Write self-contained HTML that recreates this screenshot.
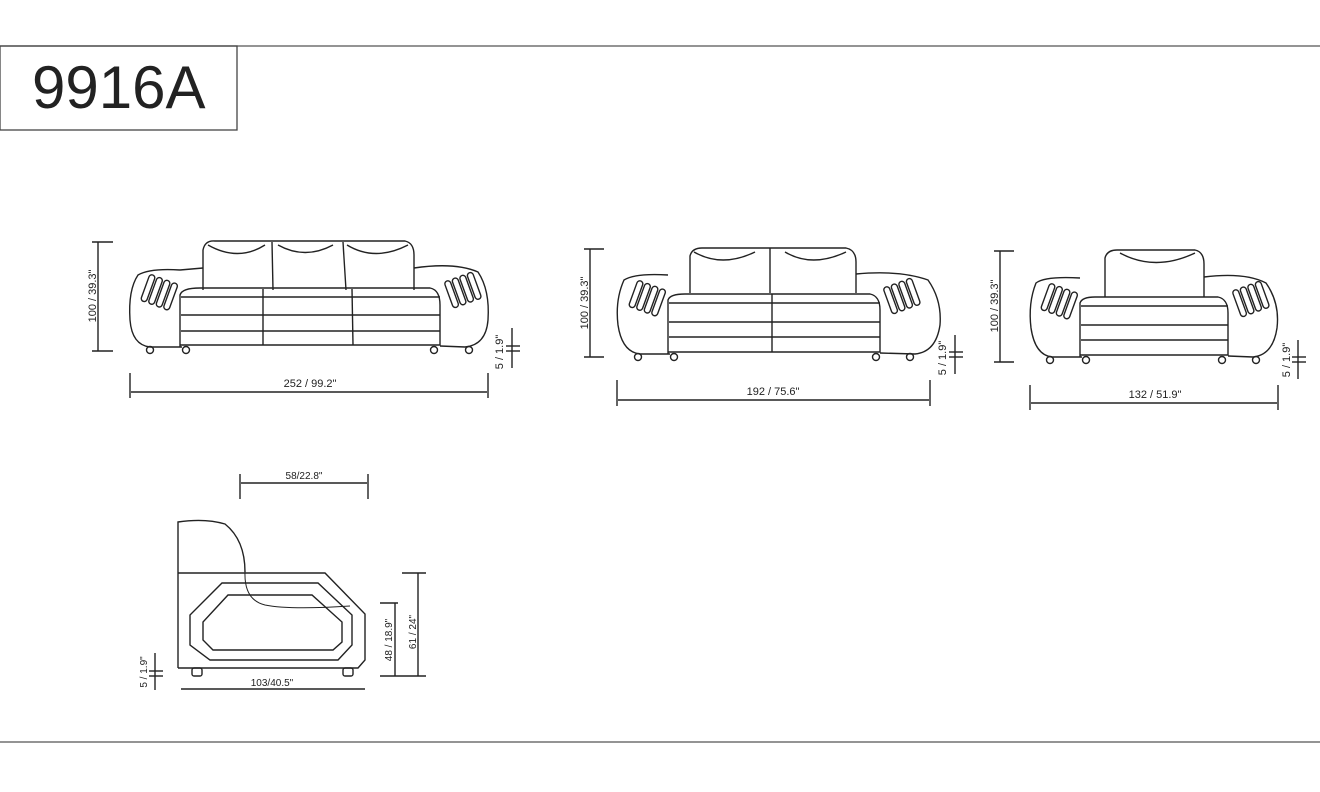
<!DOCTYPE html>
<html><head><meta charset="utf-8"><style>
html,body{margin:0;padding:0;background:#fff;}
svg{display:block;}
text{font-family:"Liberation Sans",Arial,sans-serif;fill:#222;}
</style></head><body>
<svg width="1320" height="792" viewBox="0 0 1320 792" xmlns="http://www.w3.org/2000/svg">
<defs>
<g id="ventL" stroke="#222" fill="none" stroke-width="1.4">
<rect x="0" y="0" width="6" height="28" rx="3" transform="rotate(20)"/>
<rect x="8" y="0" width="6" height="28" rx="3" transform="rotate(20)"/>
<rect x="16" y="0" width="6" height="28" rx="3" transform="rotate(20)"/>
<rect x="24" y="0" width="6" height="28" rx="3" transform="rotate(20)"/>
</g>
<g id="ventR" stroke="#222" fill="none" stroke-width="1.4">
<rect x="0" y="0" width="6" height="28" rx="3" transform="rotate(-20)"/>
<rect x="8" y="0" width="6" height="28" rx="3" transform="rotate(-20)"/>
<rect x="16" y="0" width="6" height="28" rx="3" transform="rotate(-20)"/>
<rect x="24" y="0" width="6" height="28" rx="3" transform="rotate(-20)"/>
</g>
</defs>
<g stroke="#333" fill="none" stroke-width="1.3">
<line x1="0" y1="46" x2="1320" y2="46" stroke="#555"/>
<line x1="0" y1="742" x2="1320" y2="742" stroke="#555"/>
<rect x="0" y="46" width="237" height="84" stroke="#444"/>
</g>
<text x="32" y="108" font-size="60">9916A</text>

<!-- Sofa 3 seat -->
<g stroke="#222" fill="none" stroke-width="1.4">
<path d="M180 270 Q150 268 138 275 Q128 290 130 320 Q132 345 150 347 L182 347"/>
<path d="M203 268 L180 270"/>
<path d="M203 290 L203 250 Q205 240 215 241 L405 241 Q414 243 414 255 L414 290"/>
<line x1="272" y1="242" x2="273" y2="290"/><line x1="343" y1="242" x2="346" y2="290"/>
<path d="M208 245 Q238 262 265 245"/><path d="M278 245 Q305 260 333 245"/><path d="M347 245 Q375 262 408 245"/>
<path d="M180 347 L180 295 Q182 288 200 288 L430 288 Q440 290 440 305 L440 345 L180 345"/>
<line x1="181" y1="297" x2="440" y2="297"/><line x1="181" y1="315" x2="440" y2="315"/><line x1="181" y1="331" x2="440" y2="331"/>
<line x1="263" y1="289" x2="263" y2="345"/><line x1="352" y1="289" x2="353" y2="345"/>
<path d="M414 268 Q455 262 478 272 Q490 290 488 320 Q486 345 465 347 L440 346"/>
<circle cx="150" cy="350" r="3.5"/><circle cx="186" cy="350" r="3.5"/><circle cx="434" cy="350" r="3.5"/><circle cx="469" cy="350" r="3.5"/>
<line x1="98" y1="242" x2="98" y2="351"/><line x1="92" y1="242" x2="113" y2="242"/><line x1="92" y1="351" x2="113" y2="351"/>
<line x1="130" y1="373" x2="130" y2="398"/><line x1="488" y1="373" x2="488" y2="398"/><line x1="131" y1="392" x2="487" y2="392"/>
<line x1="512" y1="328" x2="512" y2="368"/><line x1="506" y1="346" x2="520" y2="346"/><line x1="506" y1="351" x2="520" y2="351"/>
</g>
<use href="#ventL" x="150" y="274"/>
<use href="#ventR" x="444" y="282"/>
<text x="310" y="387" font-size="11" text-anchor="middle">252 / 99.2"</text>
<text transform="translate(96,296) rotate(-90)" font-size="11" text-anchor="middle">100 / 39.3"</text>
<text transform="translate(503,352) rotate(-90)" font-size="11" text-anchor="middle">5 / 1.9"</text>

<!-- Loveseat -->
<g stroke="#222" fill="none" stroke-width="1.4">
<path d="M668 275 Q635 273 624 280 Q615 300 618 325 Q622 352 640 354 L670 354"/>
<path d="M690 293 L690 256 Q692 248 702 248 L846 248 Q856 250 856 262 L856 293"/>
<line x1="770" y1="248" x2="770" y2="293"/>
<path d="M694 252 Q722 268 755 252"/><path d="M785 252 Q812 268 846 252"/>
<path d="M668 354 L668 300 Q670 294 685 294 L870 294 Q880 296 880 310 L880 352 L668 352"/>
<line x1="669" y1="303" x2="880" y2="303"/><line x1="669" y1="322" x2="880" y2="322"/><line x1="669" y1="337" x2="880" y2="337"/>
<line x1="772" y1="294" x2="772" y2="352"/>
<path d="M856 274 Q900 270 928 280 Q942 300 940 325 Q936 352 915 354 L880 353"/>
<circle cx="638" cy="357" r="3.5"/><circle cx="674" cy="357" r="3.5"/><circle cx="876" cy="357" r="3.5"/><circle cx="910" cy="357" r="3.5"/>
<line x1="590" y1="249" x2="590" y2="357"/><line x1="584" y1="249" x2="604" y2="249"/><line x1="584" y1="357" x2="604" y2="357"/>
<line x1="617" y1="380" x2="617" y2="406"/><line x1="930" y1="380" x2="930" y2="406"/><line x1="618" y1="400" x2="929" y2="400"/>
<line x1="955" y1="335" x2="955" y2="374"/><line x1="949" y1="352" x2="963" y2="352"/><line x1="949" y1="357" x2="963" y2="357"/>
</g>
<use href="#ventL" x="638" y="280"/>
<use href="#ventR" x="883" y="288"/>
<text x="773" y="395" font-size="11" text-anchor="middle">192 / 75.6"</text>
<text transform="translate(588,303) rotate(-90)" font-size="11" text-anchor="middle">100 / 39.3"</text>
<text transform="translate(946,358) rotate(-90)" font-size="11" text-anchor="middle">5 / 1.9"</text>

<!-- Chair -->
<g stroke="#222" fill="none" stroke-width="1.4">
<path d="M1080 278 Q1045 276 1036 283 Q1028 303 1031 328 Q1035 355 1052 357 L1082 357"/>
<path d="M1105 297 L1105 258 Q1107 250 1117 250 L1195 250 Q1204 252 1204 264 L1204 297"/>
<path d="M1120 253 Q1155 272 1195 253"/>
<path d="M1080 357 L1080 303 Q1082 297 1095 297 L1218 297 Q1228 299 1228 313 L1228 355 L1080 355"/>
<line x1="1081" y1="306" x2="1228" y2="306"/><line x1="1081" y1="325" x2="1228" y2="325"/><line x1="1081" y1="340" x2="1228" y2="340"/>
<path d="M1204 277 Q1245 272 1266 283 Q1280 303 1277 328 Q1273 355 1253 357 L1228 356"/>
<circle cx="1050" cy="360" r="3.5"/><circle cx="1086" cy="360" r="3.5"/><circle cx="1222" cy="360" r="3.5"/><circle cx="1256" cy="360" r="3.5"/>
<line x1="1000" y1="251" x2="1000" y2="362"/><line x1="994" y1="251" x2="1014" y2="251"/><line x1="994" y1="362" x2="1014" y2="362"/>
<line x1="1030" y1="385" x2="1030" y2="410"/><line x1="1278" y1="385" x2="1278" y2="410"/><line x1="1031" y1="403" x2="1277" y2="403"/>
<line x1="1298" y1="340" x2="1298" y2="379"/><line x1="1292" y1="357" x2="1306" y2="357"/><line x1="1292" y1="362" x2="1306" y2="362"/>
</g>
<use href="#ventL" x="1050" y="283"/>
<use href="#ventR" x="1232" y="291"/>
<text x="1155" y="398" font-size="11" text-anchor="middle">132 / 51.9"</text>
<text transform="translate(998,306) rotate(-90)" font-size="11" text-anchor="middle">100 / 39.3"</text>
<text transform="translate(1290,360) rotate(-90)" font-size="11" text-anchor="middle">5 / 1.9"</text>

<!-- Side view -->
<g stroke="#222" fill="none" stroke-width="1.4">
<path d="M178 668 L178 522 Q205 518 225 524 Q245 540 245 572"/>
<path d="M178 573 L325 573 L365 614 L365 660 L358 668 L178 668"/>
<path d="M245 572 Q244 600 265 605 Q290 610 350 606" stroke-width="1"/>
<polygon points="222,583 318,583 352,615 352,645 338,660 210,660 190,645 190,615"/>
<polygon points="228,595 312,595 342,622 342,642 333,650 213,650 203,640 203,622"/>
<rect x="192" y="668" width="10" height="8" rx="2"/><rect x="343" y="668" width="10" height="8" rx="2"/>
<line x1="240" y1="474" x2="240" y2="499"/><line x1="368" y1="474" x2="368" y2="499"/><line x1="241" y1="483" x2="367" y2="483"/>
<line x1="418" y1="573" x2="418" y2="676"/><line x1="402" y1="573" x2="426" y2="573"/><line x1="380" y1="676" x2="426" y2="676"/>
<line x1="395" y1="603" x2="395" y2="676"/><line x1="380" y1="603" x2="398" y2="603"/>
<line x1="181" y1="689" x2="365" y2="689"/>
<line x1="155" y1="653" x2="155" y2="690"/><line x1="149" y1="671" x2="163" y2="671"/><line x1="149" y1="676" x2="163" y2="676"/>
</g>
<text x="304" y="479" font-size="10" text-anchor="middle">58/22.8"</text>
<text x="272" y="686" font-size="10" text-anchor="middle">103/40.5"</text>
<text transform="translate(416,632) rotate(-90)" font-size="10" text-anchor="middle">61 / 24"</text>
<text transform="translate(392,640) rotate(-90)" font-size="10" text-anchor="middle">48 / 18.9"</text>
<text transform="translate(147,672) rotate(-90)" font-size="10" text-anchor="middle">5 / 1.9"</text>
</svg>
</body></html>
